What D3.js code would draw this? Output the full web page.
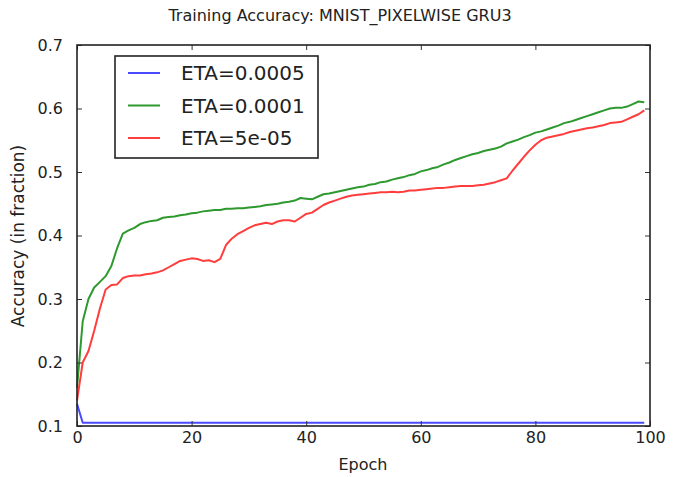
<!DOCTYPE html>
<html>
<head>
<meta charset="utf-8">
<style>
  body { margin: 0; background: #fff; }
  text { font-family: "DejaVu Sans", sans-serif; fill: #222; }
</style>
</head>
<body>
<svg width="686" height="477"></svg>
<script src="https://d3js.org/d3.v7.min.js"></script>
<script>

//Data: accuracy per epoch (0..99)
var epochs = d3.range(0, 100);

var etaLabels = ["ETA=0.0005", "ETA=0.0001", "ETA=5e-05"];
var etaColors = ["#4a4aff", "#2e992e", "#ff3d3d"];

var accEta0005 = [0.135].concat(d3.range(99).map(function() { return 0.105; }));

var accEta0001 = [
  0.160, 0.265, 0.300, 0.318, 0.327, 0.336, 0.352, 0.380, 0.403, 0.408,
  0.412, 0.418, 0.421, 0.423, 0.424, 0.428, 0.429, 0.430, 0.432, 0.433,
  0.435, 0.436, 0.438, 0.439, 0.440, 0.440, 0.442, 0.442, 0.443, 0.443,
  0.444, 0.445, 0.446, 0.448, 0.449, 0.450, 0.452, 0.453, 0.455, 0.459,
  0.458, 0.457, 0.461, 0.465, 0.466, 0.468, 0.470, 0.472, 0.474, 0.476,
  0.477, 0.480, 0.481, 0.484, 0.485, 0.488, 0.490, 0.492, 0.495, 0.497,
  0.501, 0.503, 0.506, 0.508, 0.512, 0.515, 0.519, 0.522, 0.525, 0.528,
  0.530, 0.533, 0.535, 0.537, 0.540, 0.545, 0.548, 0.551, 0.555, 0.558,
  0.562, 0.564, 0.567, 0.570, 0.573, 0.577, 0.579, 0.582, 0.585, 0.588,
  0.591, 0.594, 0.597, 0.600, 0.601, 0.601, 0.603, 0.607, 0.611, 0.610
];

var accEta5e05 = [
  0.140, 0.200, 0.218, 0.250, 0.285, 0.315, 0.322, 0.323, 0.333, 0.336,
  0.337, 0.337, 0.339, 0.340, 0.342, 0.345, 0.350, 0.355, 0.360, 0.362,
  0.364, 0.363, 0.360, 0.361, 0.358, 0.363, 0.385, 0.395, 0.402, 0.407,
  0.412, 0.416, 0.418, 0.420, 0.418, 0.422, 0.424, 0.424, 0.422, 0.428,
  0.434, 0.436, 0.442, 0.448, 0.452, 0.455, 0.458, 0.461, 0.463, 0.464,
  0.465, 0.466, 0.467, 0.468, 0.468, 0.469, 0.468, 0.469, 0.471, 0.471,
  0.472, 0.473, 0.474, 0.475, 0.475, 0.476, 0.477, 0.478, 0.478, 0.478,
  0.479, 0.480, 0.482, 0.484, 0.487, 0.490, 0.502, 0.513, 0.524, 0.534,
  0.543, 0.550, 0.554, 0.556, 0.558, 0.560, 0.563, 0.565, 0.567, 0.569,
  0.570, 0.572, 0.574, 0.577, 0.578, 0.579, 0.583, 0.587, 0.591, 0.597
];

var xTicks = [0, 20, 40, 60, 80, 100];
var yTicks = [0.1, 0.2, 0.3, 0.4, 0.5, 0.6, 0.7];

var series = [accEta0005, accEta0001, accEta5e05];

var svg = d3.select("svg");

//Plot box (note: "top" is taken by window.top, so use plotTop etc.)
var plotLeft = 77, plotRight = 650, plotTop = 45, plotBottom = 426;

var x = d3.scaleLinear().domain([0, 100]).range([plotLeft, plotRight]);
var y = d3.scaleLinear().domain([0.1, 0.7]).range([plotBottom, plotTop]);

//Title
svg.append("text")
    .attr("x", 340)
    .attr("y", 21)
    .attr("text-anchor", "middle")
    .attr("font-size", 16)
    .text("Training Accuracy: MNIST_PIXELWISE GRU3");

//Lines
var line = d3.line()
    .x(function(d, i) { return x(epochs[i]); })
    .y(function(d) { return y(d); });

svg.append("g")
    .selectAll("path")
    .data(series)
    .enter().append("path")
    .attr("fill", "none")
    .attr("stroke", function(d, i) { return etaColors[i]; })
    .attr("stroke-width", 2)
    .attr("stroke-linejoin", "round")
    .attr("d", line);

//Axes, ticks pointing inward like the classic matplotlib style
svg.append("g")
    .attr("transform", "translate(0," + plotBottom + ")")
    .call(d3.axisBottom(x).tickValues(xTicks).tickSizeInner(-5).tickSizeOuter(0).tickPadding(5))
    .call(function(g) { g.select(".domain").remove(); })
    .selectAll("text").attr("font-size", 16).attr("dy", "0.75em");

svg.append("g")
    .attr("transform", "translate(0," + plotTop + ")")
    .call(d3.axisTop(x).tickValues(xTicks).tickSizeInner(-5).tickSizeOuter(0).tickFormat(""))
    .call(function(g) { g.select(".domain").remove(); });

svg.append("g")
    .attr("transform", "translate(" + plotLeft + ",0)")
    .call(d3.axisLeft(y).tickValues(yTicks).tickSizeInner(-5).tickSizeOuter(0).tickPadding(14).tickFormat(d3.format(".1f")))
    .call(function(g) { g.select(".domain").remove(); })
    .selectAll("text").attr("font-size", 16);

svg.append("g")
    .attr("transform", "translate(" + plotRight + ",0)")
    .call(d3.axisRight(y).tickValues(yTicks).tickSizeInner(-5).tickSizeOuter(0).tickFormat(""))
    .call(function(g) { g.select(".domain").remove(); });

svg.selectAll(".tick line").attr("stroke", "#333");

//Frame
svg.append("rect")
    .attr("x", plotLeft)
    .attr("y", plotTop)
    .attr("width", plotRight - plotLeft)
    .attr("height", plotBottom - plotTop)
    .attr("fill", "none")
    .attr("stroke", "#222")
    .attr("stroke-width", 1.6);

//Axis labels
svg.append("text")
    .attr("x", 363)
    .attr("y", 470)
    .attr("text-anchor", "middle")
    .attr("font-size", 16)
    .text("Epoch");

svg.append("text")
    .attr("transform", "translate(24,236) rotate(-90)")
    .attr("text-anchor", "middle")
    .attr("font-size", 17)
    .text("Accuracy (in fraction)");

//Legend
var legend = svg.append("g").attr("transform", "translate(115,56)");

legend.append("rect")
    .attr("width", 203)
    .attr("height", 102)
    .attr("fill", "#fff")
    .attr("stroke", "#222")
    .attr("stroke-width", 1.6);

var item = legend.selectAll(".item")
    .data(etaLabels)
    .enter().append("g")
    .attr("class", "item")
    .attr("transform", function(d, i) { return "translate(0," + (17 + i * 32.5) + ")"; });

item.append("line")
    .attr("x1", 13)
    .attr("x2", 45)
    .attr("stroke", function(d, i) { return etaColors[i]; })
    .attr("stroke-width", 2);

item.append("text")
    .attr("x", 66)
    .attr("dy", "0.36em")
    .attr("font-size", 20)
    .text(function(d) { return d; });

</script>
</body>
</html>
